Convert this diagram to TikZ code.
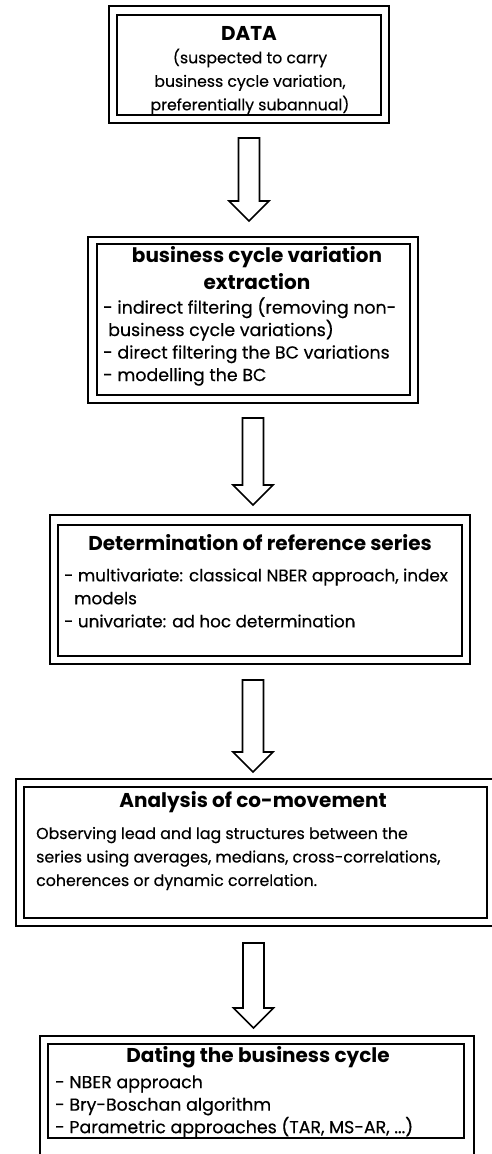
\documentclass[tikz,border=0pt]{standalone}
\usepackage{fontspec}
\setmainfont{Poppins}
\newfontfamily\bodyf{Poppins}[FakeBold=0.4]
\begin{document}
\begin{tikzpicture}[x=1pt,y=-1pt,
  box/.style={draw, line width=1.3pt, inner sep=0pt, outer sep=0pt},
  ttl/.style={font=\fontsize{20}{27}\selectfont\bfseries, align=center, inner sep=0pt},
  bdy/.style={font=\bodyf\fontsize{17.4}{22.5}\selectfont, align=left, inner sep=0pt},
  arrowline/.style={draw, line width=1.6pt, line join=miter},
  pics/blockarrow/.style={code={\path[arrowline] (-10.5,0) -- (10.5,0) -- (10.5,#1-20) -- (20,#1-20) -- (0,#1) -- (-20,#1-20) -- (-10.5,#1-20) -- cycle;}}
]
\useasboundingbox (0,0) rectangle (491,1154);

% Box 1
\node[box, minimum width=280pt, minimum height=117pt] (b1o) at (249,64.5) {};
\node[box, minimum width=264pt, minimum height=100pt] (b1) at (249,65) {};
\node[ttl] (t1) at (249,33) {DATA};
\node[bdy, align=center, font=\bodyf\fontsize{15.7}{23.5}\selectfont] (d1) at (250,81.5) {(suspected to carry\\business cycle variation,\\preferentially subannual)};

% Box 2
\node[box, minimum width=330pt, minimum height=166pt] (b2o) at (253,320) {};
\node[box, minimum width=313pt, minimum height=151pt] (b2) at (253.5,319.5) {};
\node[ttl] (t2) at (257,268.5) {business cycle variation\\extraction};
\node[bdy, anchor=west] (d2) at (103,341.5) {- indirect filtering (removing non-\\\hspace*{5pt}business cycle variations)\\- direct filtering the BC variations\\- modelling the BC};

% Box 3
\node[box, minimum width=420pt, minimum height=149pt] (b3o) at (260,589.5) {};
\node[box, minimum width=404pt, minimum height=131pt] (b3) at (260,590.5) {};
\node[ttl] (t3) at (260,543) {Determination of reference series};
\node[bdy, anchor=west, font=\bodyf\fontsize{16.8}{23}\selectfont] (d3) at (64,598) {- multivariate: classical NBER approach, index\\\hspace*{10pt}models\\- univariate: ad hoc determination};

% Box 4
\node[box, minimum width=479pt, minimum height=147pt] (b4o) at (255.5,852.5) {};
\node[box, minimum width=463pt, minimum height=131pt] (b4) at (255.5,852.5) {};
\node[ttl] (t4) at (253,802) {Analysis of co-movement};
\node[bdy, anchor=west, font=\bodyf\fontsize{15.8}{23.5}\selectfont] (d4) at (36,858.5) {Observing lead and lag structures between the\\series using averages, medians, cross-correlations,\\coherences or dynamic correlation.};

% Box 5
\node[box, minimum width=434pt, minimum height=124pt] (b5o) at (257,1098) {};
\node[box, minimum width=416pt, minimum height=94pt] (b5) at (256,1091) {};
\node[ttl] (t5) at (258,1057) {Dating the business cycle};
\node[bdy, anchor=west] (d5) at (55,1106.5) {- NBER approach\\- Bry-Boschan algorithm\\- Parametric approaches (TAR, MS-AR, ...)};

% Block arrows between the boxes
\path (b1o.south) ++(0,15) pic {blockarrow=83};
\path (b2o.south) ++(0,15) pic {blockarrow=87};
\path (b3o.south) ++(-7,16) pic {blockarrow=92};
\path (b4o.south) ++(-2,17) pic {blockarrow=85};
\end{tikzpicture}
\end{document}
